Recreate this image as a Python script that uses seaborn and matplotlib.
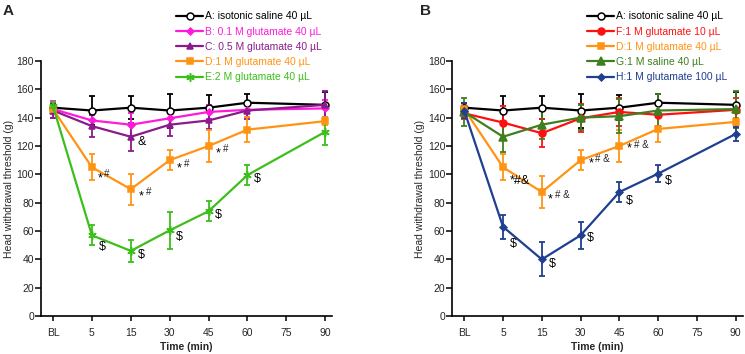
import matplotlib
matplotlib.use("Agg")
import matplotlib.pyplot as plt
import seaborn as sns

# x axis categories (75 min has no measurement)
x_ticks = ["BL", "5", "15", "30", "45", "60", "75", "90"]
times = ["BL", "5", "15", "30", "45", "60", "90"]

# panel A
a_mean = [147, 145, 147, 145, 147, 150.5, 149]
a_err = [3, 10, 8, 12, 9, 6, 9]
b_mean = [146, 138, 135, 139.5, 144, 145.5, 146.5]
b_err = [6, 5, 8, 6, 5, 5, 6]
c_mean = [145, 134, 126.5, 135, 138, 145, 149]
c_err = [5, 8, 10, 8, 6, 6, 10]
d_mean = [146, 105, 89.5, 110, 120, 131.5, 137.5]
d_err = [3, 9, 11, 7, 11, 9, 3]
e_mean = [148, 57, 46, 60.5, 74, 99.5, 130]
e_err = [3, 7, 8, 13, 7, 7, 9]

# panel B
f_mean = [143, 136.5, 129, 139.5, 144, 142, 145.5]
f_err = [4, 12, 10, 10, 10, 8, 8]
d2_mean = [146, 105, 87.5, 110, 120, 132, 137]
d2_err = [3, 9, 11, 7, 11, 9, 3]
g_mean = [144, 126.5, 135, 140, 141, 145, 146]
g_err = [10, 11, 10, 9, 12, 12, 13]
h_mean = [145, 63, 40, 57, 87.5, 100.5, 128.5]
h_err = [5, 8.5, 12, 9.5, 7, 6, 5]

labels_a = ["A: isotonic saline 40 \u00b5L", "B: 0.1 M glutamate 40 \u00b5L",
            "C: 0.5 M glutamate 40 \u00b5L", "D:1 M glutamate 40 \u00b5L",
            "E:2 M glutamate 40 \u00b5L"]
labels_b = ["A: isotonic saline 40 \u00b5L", "F:1 M glutamate 10 \u00b5L",
            "D:1 M glutamate 40 \u00b5L", "G:1 M saline 40 \u00b5L",
            "H:1 M glutamate 100 \u00b5L"]

# significance marks: (series index, time, text, superscript)
notes_a = [(2, "15", "&", ""),
           (3, "5", "*", "#"), (3, "15", "*", "#"), (3, "30", "*", "#"), (3, "45", "*", "#"),
           (4, "5", "$", ""), (4, "15", "$", ""), (4, "30", "$", ""), (4, "45", "$", ""),
           (4, "60", "$", "")]
notes_b = [(2, "5", "*#&", ""), (2, "15", "*", "# &"), (2, "30", "*", "# &"),
           (2, "45", "*", "# &"),
           (4, "5", "$", ""), (4, "15", "$", ""), (4, "30", "$", ""), (4, "45", "$", ""),
           (4, "60", "$", "")]

BLACK, MAGENTA, PURPLE, ORANGE, GREEN = "#000000", "#ff1adb", "#8b1a8b", "#ff9414", "#3cbf1a"
RED, OLIVE, NAVY = "#ff1010", "#3f7f1f", "#1f3f90"

sns.set_style("ticks")
plt.rcParams["font.family"] = ["Liberation Sans", "DejaVu Sans"]
plt.rcParams["text.parse_math"] = False

fig = plt.figure(figsize=(7.45, 3.54), dpi=100)
ax_a = fig.add_axes([0.055, 0.107, 0.391, 0.721])
ax_b = fig.add_axes([0.607, 0.107, 0.39, 0.721])

xpos = [x_ticks.index(t) for t in times]


def draw_panel(ax, series, labels, notes, panel, note_offsets, label_x):
    for (mean, err, color, marker, ms, mfc), lab in zip(series, labels):
        ax.errorbar(xpos, mean, yerr=err, fmt="none", ecolor=color,
                    elinewidth=1.3, capsize=2.5, capthick=1.3, zorder=2)
        sns.lineplot(x=xpos, y=mean, color=color, marker=marker, markersize=ms,
                     markerfacecolor=mfc, markeredgecolor=color, markeredgewidth=1.1,
                     linewidth=1.6, label=lab, ax=ax, zorder=3)
    for (idx, t, txt, sup), (dx, dy) in zip(notes, note_offsets):
        mean = series[idx][0]
        xi = x_ticks.index(t) + dx
        yi = mean[times.index(t)] + dy
        ax.text(xi, yi, txt, fontsize=9, ha="left", va="center", color="black")
        if sup:
            ax.annotate(sup, (xi, yi), xytext=(5, 3), textcoords="offset points",
                        fontsize=7, ha="left", va="center")

    ax.set_xlim(-0.31, 7.18)
    ax.set_ylim(0, 180)
    ax.set_xticks(range(len(x_ticks)))
    ax.set_xticklabels(x_ticks)
    ax.set_yticks(range(0, 181, 20))
    ax.tick_params(labelsize=7.5, width=1.1, color="black")
    ax.tick_params(axis="x", length=3.3, pad=5)
    ax.tick_params(axis="y", length=4, pad=1)
    ax.set_xlabel("Time (min)", fontsize=7.5, fontweight="bold", labelpad=3)
    ax.set_ylabel("Head withdrawal threshold (g)", fontsize=7.5, labelpad=2)
    for s in ["left", "bottom"]:
        ax.spines[s].set_linewidth(1.2)
        ax.spines[s].set_color("black")
    sns.despine(ax=ax)

    leg = ax.legend(loc="upper left", bbox_to_anchor=(0.45, 1.21), frameon=False,
                    fontsize=7.5, handlelength=2.6, handletextpad=0.2,
                    labelspacing=0.5, borderaxespad=0)
    for txt, line in zip(leg.get_texts(), leg.get_lines()):
        txt.set_color(line.get_color())
    ax.text(label_x, 1.224, panel, transform=ax.transAxes, fontsize=11,
            fontweight="bold", ha="left", va="top")


series_a = [
    (a_mean, a_err, BLACK, "o", 5, "white"),
    (b_mean, b_err, MAGENTA, "D", 3.5, MAGENTA),
    (c_mean, c_err, PURPLE, "^", 5, PURPLE),
    (d_mean, d_err, ORANGE, "s", 5, ORANGE),
    (e_mean, e_err, GREEN, (6, 2, 0), 6, GREEN),
]
offs_a = [(0.17, -4), (0.14, -8), (0.2, -5), (0.18, -6), (0.18, -5),
          (0.17, -8), (0.17, -3), (0.17, -5), (0.17, -3), (0.17, -3)]

series_b = [
    (a_mean, a_err, BLACK, "o", 5, "white"),
    (f_mean, f_err, RED, "o", 5, RED),
    (d2_mean, d2_err, ORANGE, "s", 5, ORANGE),
    (g_mean, g_err, OLIVE, "^", 6, OLIVE),
    (h_mean, h_err, NAVY, "D", 3.5, NAVY),
]
offs_b = [(0.17, -10), (0.15, -5), (0.2, -2), (0.2, -2),
          (0.17, -12), (0.17, -3), (0.17, -2), (0.17, -6), (0.17, -5)]

draw_panel(ax_a, series_a, labels_a, notes_a, "A", offs_a, -0.13)
draw_panel(ax_b, series_b, labels_b, notes_b, "B", offs_b, -0.11)

fig.savefig("out.png", dpi=100)
